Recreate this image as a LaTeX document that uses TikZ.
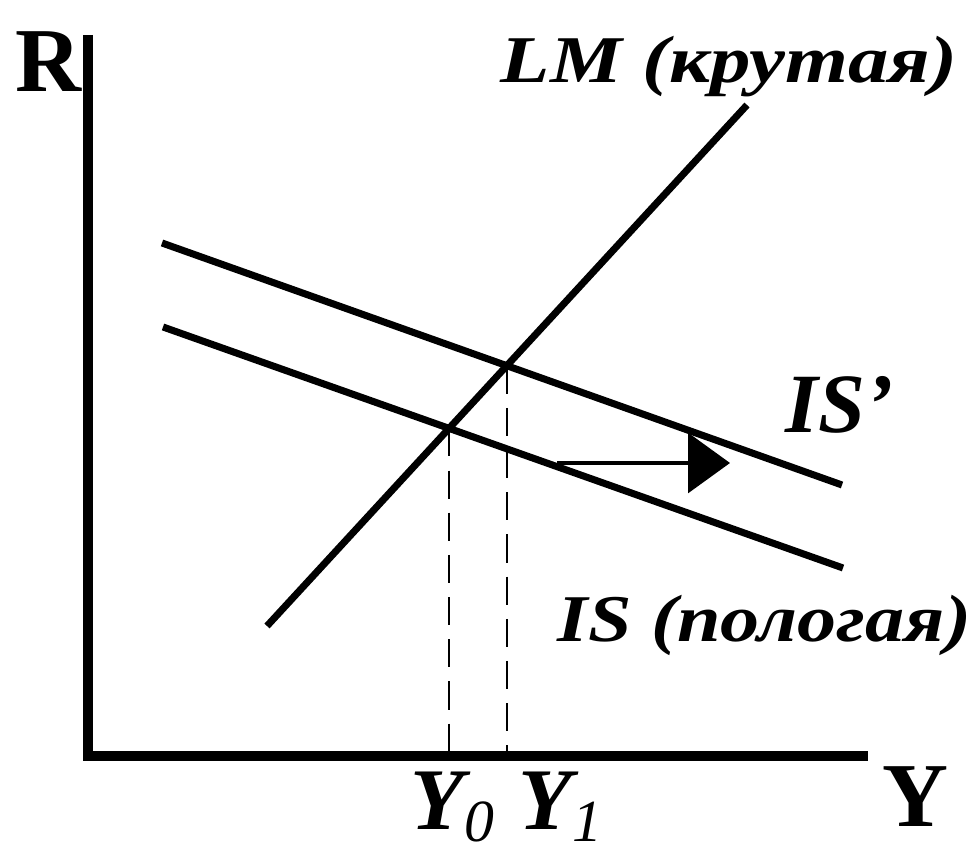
\documentclass[tikz,border=0pt]{standalone}
\usepackage{fontspec}
\setmainfont{Liberation Serif}
\usetikzlibrary{arrows.meta}
\usetikzlibrary{intersections}

\newcommand{\subidx}[1]{\raisebox{-0.12cm}{\fontsize{17}{17}\selectfont\mdseries #1}}

\begin{document}
\begin{tikzpicture}[
    axis/.style={line width=2.6pt},
    curve/.style={line width=2pt},
    guide/.style={line width=0.7pt, dash pattern=on 8pt off 4pt},
    axlabel/.style={font=\fontsize{26}{28}\selectfont\bfseries},
    curvelabel/.style={font=\fontsize{19}{22}\selectfont\bfseries\itshape, anchor=base west, inner sep=0pt}
  ]
  \useasboundingbox (-0.88,-1.02) rectangle (8.85,7.56);

  % axes
  \coordinate (O) at (0,0);
  \coordinate (Rtop) at (0,7.21);
  \coordinate (Yend) at (7.80,0);
  \draw[axis] (Rtop) -- (O) -- (Yend);
  \node[axlabel] (R) at (-0.40,6.94) {R};
  \node[axlabel] (Y) at (8.27,-0.41) {Y};

  % LM and the two IS curves
  \coordinate (lm0) at (1.79,1.30);
  \coordinate (lm1) at (6.59,6.51);
  \coordinate (is0) at (0.75,4.29);
  \coordinate (is1) at (7.55,1.88);
  \coordinate (isp0) at (0.74,5.13);
  \coordinate (isp1) at (7.54,2.71);
  \draw[curve, name path=LM] (lm0) -- (lm1);
  \draw[curve, name path=IS] (is0) -- (is1);
  \draw[curve, name path=ISp] (isp0) -- (isp1);

  % equilibria
  \path[name intersections={of=LM and IS, by=E0}];
  \path[name intersections={of=LM and ISp, by=E1}];
  \draw[guide] (E0) -- (E0 |- O);
  \draw[guide] (E1) -- (E1 |- O);

  % shift of IS
  \coordinate (sh0) at (4.69,2.93);
  \coordinate (sh1) at (6.42,2.93);
  \draw[line width=0.9pt, -{Triangle[length=0.42cm,width=0.6cm]}] (sh0) -- (sh1);

  \node[curvelabel, xscale=1.21] (lmlab) at (4.12,6.73) {LM (крутая)};
  \node[curvelabel, font=\fontsize{24}{26}\selectfont\bfseries\itshape] (isplab) at (6.97,3.23) {IS’};
  \node[curvelabel, xscale=1.17] (islab) at (4.69,1.14) {IS (пологая)};
  \node[curvelabel, font=\fontsize{25}{26}\selectfont\bfseries\itshape] (y0) at (3.22,-0.74) {Y\subidx{0}};
  \node[curvelabel, font=\fontsize{25}{26}\selectfont\bfseries\itshape] (y1) at (4.30,-0.74) {Y\subidx{1}};
\end{tikzpicture}
\end{document}
